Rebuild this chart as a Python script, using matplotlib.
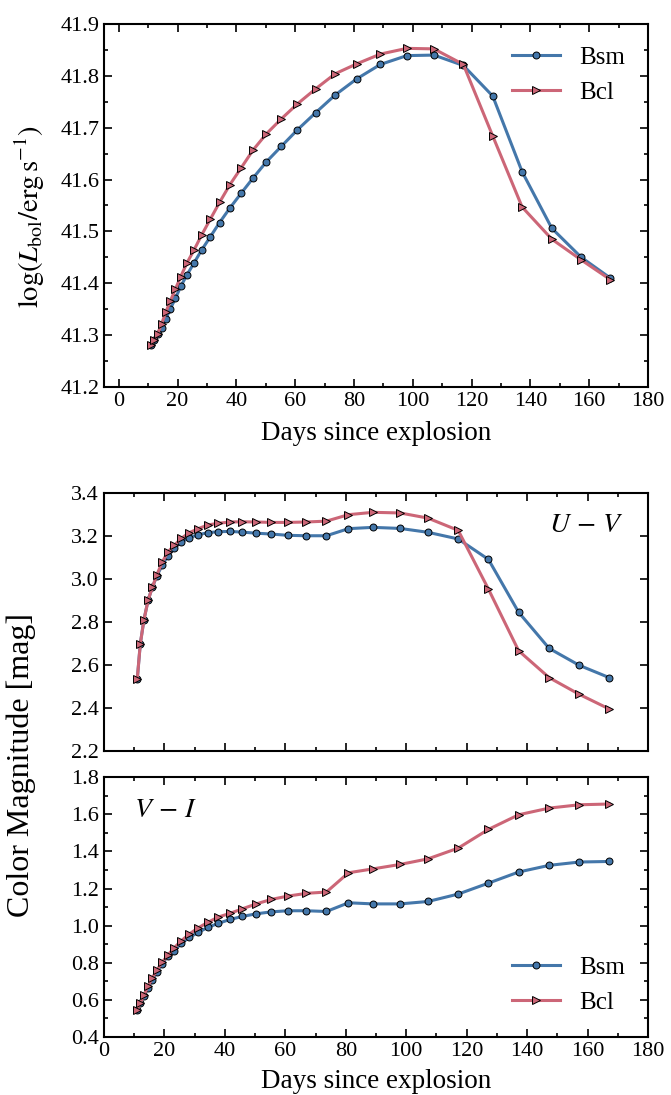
import matplotlib
matplotlib.use('Agg')
import matplotlib.pyplot as plt
from matplotlib.ticker import MultipleLocator

# days since explosion (same epochs for all curves)
days = [11.0, 12.0, 13.2, 14.6, 16.0, 17.5, 19.3, 21.1, 23.2, 25.6, 28.2,
        31.2, 34.3, 37.8, 41.7, 45.7, 50.2, 55.3, 60.8, 67.0, 73.6, 80.9,
        89.0, 98.0, 107.2, 117.2, 127.2, 137.2, 147.3, 157.3, 167.2]

# log bolometric luminosity
lbol_bsm = [41.281, 41.291, 41.302, 41.314, 41.331, 41.350, 41.371, 41.394,
            41.416, 41.439, 41.464, 41.490, 41.517, 41.545, 41.574, 41.603,
            41.634, 41.664, 41.696, 41.729, 41.763, 41.794, 41.822, 41.839,
            41.840, 41.820, 41.761, 41.615, 41.506, 41.450, 41.410]
lbol_bcl = [41.281, 41.291, 41.302, 41.322, 41.344, 41.365, 41.389, 41.413,
            41.439, 41.464, 41.493, 41.524, 41.556, 41.590, 41.623, 41.657,
            41.688, 41.717, 41.746, 41.775, 41.804, 41.823, 41.842, 41.853,
            41.852, 41.822, 41.684, 41.547, 41.485, 41.445, 41.407]

# U-V colour
uv_bsm = [2.532, 2.696, 2.808, 2.901, 2.960, 3.014, 3.064, 3.106, 3.141,
          3.171, 3.191, 3.205, 3.214, 3.219, 3.220, 3.217, 3.212, 3.208,
          3.202, 3.200, 3.200, 3.233, 3.239, 3.234, 3.216, 3.185, 3.090,
          2.844, 2.676, 2.597, 2.540]
uv_bcl = [2.532, 2.696, 2.808, 2.901, 2.960, 3.019, 3.078, 3.124, 3.155,
          3.188, 3.214, 3.233, 3.250, 3.258, 3.264, 3.265, 3.264, 3.262,
          3.262, 3.264, 3.268, 3.298, 3.309, 3.306, 3.282, 3.225, 2.952,
          2.665, 2.540, 2.462, 2.394]

# V-I colour
vi_bsm = [0.547, 0.580, 0.620, 0.665, 0.708, 0.750, 0.795, 0.835, 0.864,
          0.904, 0.936, 0.963, 0.990, 1.012, 1.033, 1.049, 1.063, 1.074,
          1.080, 1.080, 1.076, 1.123, 1.117, 1.117, 1.130, 1.170, 1.229,
          1.289, 1.325, 1.343, 1.346]
vi_bcl = [0.547, 0.583, 0.625, 0.673, 0.718, 0.760, 0.803, 0.840, 0.880,
          0.918, 0.954, 0.988, 1.017, 1.046, 1.066, 1.090, 1.116, 1.141,
          1.159, 1.174, 1.181, 1.285, 1.306, 1.330, 1.360, 1.418, 1.519,
          1.598, 1.634, 1.652, 1.656]

BLUE = '#4477aa'
RED = '#cc6677'

plt.rcParams['font.family'] = ['Liberation Serif', 'DejaVu Serif']
plt.rcParams['mathtext.fontset'] = 'stix'
plt.rcParams['font.size'] = 16
plt.rcParams['axes.linewidth'] = 1.5


def style_axis(ax, ymajor, yminor):
    ax.xaxis.set_major_locator(MultipleLocator(20))
    ax.xaxis.set_minor_locator(MultipleLocator(10))
    ax.yaxis.set_major_locator(MultipleLocator(ymajor))
    if yminor:
        ax.yaxis.set_minor_locator(MultipleLocator(yminor))
    ax.tick_params(which='both', direction='in', top=True, right=True,
                   labelsize=16, width=1.2)
    ax.tick_params(which='major', length=6)
    ax.tick_params(which='minor', length=3)


def draw(ax, bsm, bcl):
    ax.plot(days, bsm, '-o', color=BLUE, lw=2.2, ms=5, mec='k', mew=0.7, label='Bsm')
    ax.plot(days, bcl, '->', color=RED, lw=2.2, ms=5.5, mec='k', mew=0.7, label='Bcl')


fig = plt.figure(figsize=(6.71, 10.95), dpi=100)
ax1 = fig.add_axes([0.155, 0.6466, 0.8107, 0.3315])
ax2 = fig.add_axes([0.155, 0.3144, 0.8107, 0.2356])
ax3 = fig.add_axes([0.155, 0.0532, 0.8107, 0.2369])

draw(ax1, lbol_bsm, lbol_bcl)
ax1.set_xlim(-5, 180)
ax1.set_ylim(41.2, 41.9)
style_axis(ax1, 0.1, 0.05)
ax1.set_xlabel('Days since explosion', fontsize=19.5, labelpad=7)
ax1.set_ylabel(r'$\log(L_{\rm bol}/{\rm erg\,s^{-1}})$', fontsize=20.5)
ax1.yaxis.set_label_coords(-0.105, 0.47)
ax1.legend(loc='upper right', frameon=False, numpoints=1, fontsize=18,
           handlelength=1.9)

draw(ax2, uv_bsm, uv_bcl)
ax2.set_xlim(0, 180)
ax2.set_ylim(2.2, 3.4)
style_axis(ax2, 0.2, None)
ax2.set_xticklabels([])
ax2.text(0.955, 0.92, r'$U\,-\,V$', transform=ax2.transAxes, ha='right', va='top',
         fontsize=20)

draw(ax3, vi_bsm, vi_bcl)
ax3.set_xlim(0, 180)
ax3.set_ylim(0.4, 1.8)
style_axis(ax3, 0.2, 0.1)
ax3.set_xlabel('Days since explosion', fontsize=19.5, labelpad=6)
ax3.text(0.055, 0.92, r'$V\,-\,I$', transform=ax3.transAxes, ha='left', va='top',
         fontsize=20)
ax3.legend(loc='lower right', frameon=False, numpoints=1, fontsize=18,
           handlelength=1.9)

fig.text(0.031, 0.301, 'Color Magnitude [mag]', rotation=90, ha='center',
         va='center', fontsize=23)

fig.savefig('out.png', dpi=100)
